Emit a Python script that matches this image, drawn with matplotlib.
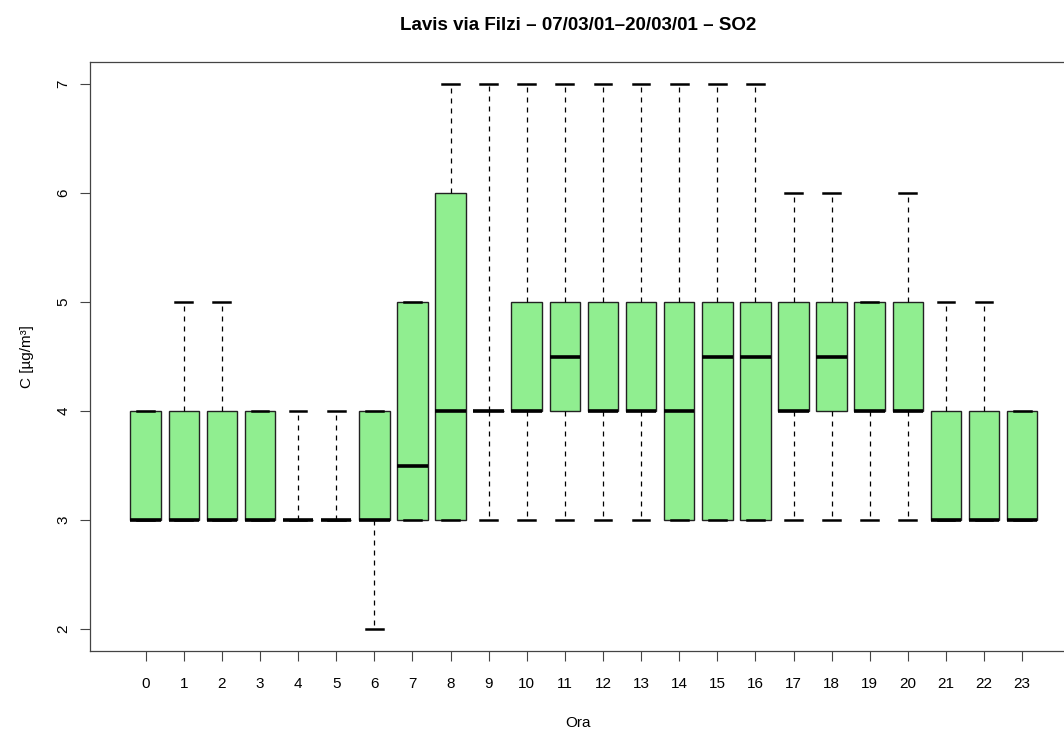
import matplotlib.pyplot as plt

plt.rcParams['font.family'] = ['Liberation Sans', 'DejaVu Sans']

hours = list(range(24))
# whisker low, first quartile, median, third quartile, whisker high per hour
whislo = [3, 3, 3, 3, 3, 3, 2, 3, 3, 3, 3, 3, 3, 3, 3, 3, 3, 3, 3, 3, 3, 3, 3, 3]
q1 = [3, 3, 3, 3, 3, 3, 3, 3, 3, 4, 4, 4, 4, 4, 3, 3, 3, 4, 4, 4, 4, 3, 3, 3]
med = [3, 3, 3, 3, 3, 3, 3, 3.5, 4, 4, 4, 4.5, 4, 4, 4, 4.5, 4.5, 4, 4.5, 4, 4, 3, 3, 3]
q3 = [4, 4, 4, 4, 3, 3, 4, 5, 6, 4, 5, 5, 5, 5, 5, 5, 5, 5, 5, 5, 5, 4, 4, 4]
whishi = [4, 5, 5, 4, 4, 4, 4, 5, 7, 7, 7, 7, 7, 7, 7, 7, 7, 6, 6, 5, 6, 5, 5, 4]

stats = []
for i in range(len(hours)):
    stats.append(dict(whislo=whislo[i], q1=q1[i], med=med[i], q3=q3[i],
                      whishi=whishi[i], fliers=[]))

fig = plt.figure(figsize=(10.64, 7.29), dpi=100)
# frame runs a little past the right edge of the canvas
ax = fig.add_axes([90 / 1064, 78 / 729, 976 / 1064, 589 / 729])

positions = [h + 1 for h in hours]
ax.bxp(stats, positions=positions, widths=0.8, patch_artist=True,
       showfliers=False,
       boxprops=dict(facecolor='#90EE90', edgecolor='#222222', linewidth=1),
       medianprops=dict(color='black', linewidth=2.6, solid_capstyle='butt'),
       whiskerprops=dict(color='black', linewidth=0.9, linestyle=(0, (4, 4))),
       capprops=dict(color='black', linewidth=1.8),
       capwidths=0.44)

ax.set_xlim(-0.46, 25.15)
ax.set_ylim(1.8, 7.2)
ax.set_xticks(positions)
ax.set_xticklabels([str(h) for h in hours], fontsize=11)
ax.set_yticks([2, 3, 4, 5, 6, 7])
ax.set_yticklabels(['2', '3', '4', '5', '6', '7'], fontsize=11, rotation=90, va='center')
ax.tick_params(axis='both', direction='out', length=7, width=0.8, color='#444444')
ax.tick_params(axis='x', pad=12)
ax.tick_params(axis='y', pad=7)
for s in ax.spines.values():
    s.set_color('#444444')
    s.set_linewidth(0.9)

ax.set_xlabel('Ora', fontsize=11, labelpad=18)
ax.set_ylabel('C [µg/m³]', fontsize=11, labelpad=16)
ax.set_title('Lavis via Filzi – 07/03/01–20/03/01 – SO2', fontsize=13.5,
             fontweight='bold', pad=23)

fig.savefig('out.png', dpi=100)
